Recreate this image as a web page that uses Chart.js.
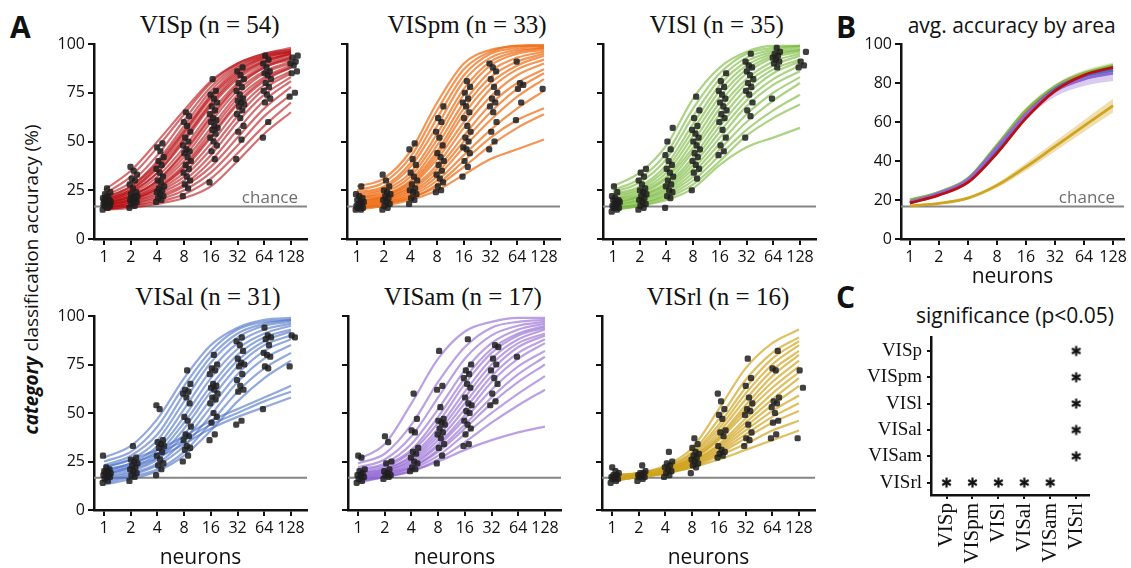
<!DOCTYPE html>
<html>
<head>
<meta charset="utf-8">
<script src="https://cdn.jsdelivr.net/npm/chart.js@4.4.1/dist/chart.umd.min.js"></script>
<style>
  html, body { margin: 0; padding: 0; background: #fff; overflow: hidden; }
  body { width: 1131px; height: 568px; position: relative; font-family: 'Open Sans', sans-serif; color: #111; }
  canvas { position: absolute; }
  .lbl { position: absolute; white-space: nowrap; }
  .letter { font-weight: 700; font-size: 30px; line-height: 30px; }
  .ttl { font-family: 'Liberation Serif', serif; font-size: 25px; line-height: 25px; width: 240px; text-align: center; }
  .sub { font-size: 21px; line-height: 21px; width: 260px; text-align: center; }
  .ylab { font-size: 19px; line-height: 19px; width: 360px; text-align: center; transform: rotate(-90deg); }
</style>
</head>
<body>
<div class="lbl letter" style="left:10px;top:11.5px">A</div>
<div class="lbl letter" style="left:836px;top:12px">B</div>
<div class="lbl letter" style="left:836px;top:281.5px">C</div>

<div class="lbl ttl" style="left:89.7px;top:12.4px">VISp (n = 54)</div>
<div class="lbl ttl" style="left:347px;top:12.4px">VISpm (n = 33)</div>
<div class="lbl ttl" style="left:596.7px;top:12.4px">VISl (n = 35)</div>
<div class="lbl ttl" style="left:88px;top:284px">VISal (n = 31)</div>
<div class="lbl ttl" style="left:343px;top:284px">VISam (n = 17)</div>
<div class="lbl ttl" style="left:598px;top:284px">VISrl (n = 16)</div>
<div class="lbl sub" style="left:881.7px;top:14.7px">avg. accuracy by area</div>
<div class="lbl sub" style="left:885px;top:304.7px">significance (p&lt;0.05)</div>
<div class="lbl ylab" style="left:-149.4px;top:270px"><b><i>category</i></b> classification accuracy (%)</div>

<canvas id="c-visp"  width="273" height="239" style="left:42px;top:30px"></canvas>
<canvas id="c-vispm" width="273" height="239" style="left:295px;top:30px"></canvas>
<canvas id="c-visl"  width="273" height="239" style="left:551px;top:30px"></canvas>
<canvas id="c-visal" width="273" height="269" style="left:42px;top:302px"></canvas>
<canvas id="c-visam" width="273" height="269" style="left:296px;top:302px"></canvas>
<canvas id="c-visrl" width="273" height="269" style="left:550px;top:302px"></canvas>
<canvas id="c-avg"   width="281" height="260" style="left:849px;top:30px"></canvas>
<canvas id="c-sig"   width="245" height="249" style="left:861px;top:319px"></canvas>

<script>
// Neuron counts on the x axis and tick values
const NEURONS = [1, 2, 4, 8, 16, 32, 64, 128];
const ACC_TICKS = [0, 25, 50, 75, 100];
const AVG_TICKS = [0, 20, 40, 60, 80, 100];
const CHANCE = 100 / 6;
const AREAS = ['VISp', 'VISpm', 'VISl', 'VISal', 'VISam', 'VISrl'];

// Fitted curves per session (accuracy % at each neuron count)
const vispCurves = [
    [25, 35, 50, 66, 81, 90, 95, 98],
    [23, 32, 47, 64, 80, 90, 95, 97],
    [22, 29, 43, 61, 78, 89, 94, 97],
    [21, 27, 40, 58, 76, 88, 94, 96],
    [20, 26, 38, 55, 73, 86, 93, 96],
    [20, 25, 36, 52, 70, 84, 91, 95],
    [19, 24, 34, 50, 68, 82, 90, 94],
    [19, 23, 32, 47, 65, 80, 89, 93],
    [18, 22, 30, 44, 62, 78, 88, 92],
    [18, 22, 29, 42, 60, 76, 86, 91],
    [18, 21, 28, 40, 57, 74, 85, 90],
    [17, 21, 27, 38, 55, 72, 83, 89],
    [17, 20, 26, 36, 52, 69, 81, 88],
    [17, 20, 25, 34, 49, 66, 79, 86],
    [16, 19, 24, 32, 46, 63, 77, 85],
    [16, 19, 23, 30, 43, 60, 74, 83],
    [16, 18, 22, 28, 40, 56, 71, 81],
    [16, 18, 21, 27, 37, 52, 67, 78],
    [15, 17, 20, 25, 34, 48, 63, 74],
    [15, 17, 19, 23, 31, 44, 58, 70],
    [15, 16, 18, 21, 27, 40, 54, 65],
    [21, 27, 39, 56, 74, 87, 93, 96],
    [19, 24, 34, 51, 69, 83, 91, 95],
    [18, 22, 30, 45, 63, 79, 88, 93],
    [20, 25, 37, 54, 72, 85, 92, 95],
    [17, 20, 26, 37, 53, 70, 82, 88]
];
const vispPoints = [
    [15, 16, 17, 17, 18, 18, 18, 19, 19, 19, 20, 20, 21, 21, 22, 23, 24, 26],
    [16, 17, 18, 19, 19, 20, 20, 21, 22, 22, 23, 24, 26, 28, 30, 31, 33, 35, 37],
    [19, 20, 21, 22, 23, 24, 25, 26, 27, 29, 30, 32, 34, 36, 38, 40, 42, 45, 47, 49],
    [22, 26, 28, 30, 32, 34, 36, 38, 40, 42, 44, 45, 46, 48, 50, 52, 55, 58, 60, 63, 65],
    [29, 41, 45, 48, 50, 52, 54, 56, 57, 58, 60, 61, 62, 64, 66, 68, 70, 72, 74, 76, 82],
    [41, 51, 55, 58, 62, 64, 66, 68, 69, 70, 71, 72, 74, 76, 78, 80, 82, 84, 86, 88],
    [52, 60, 70, 72, 74, 76, 78, 80, 82, 84, 85, 86, 88, 90, 92, 94],
    [73, 75, 85, 86, 89, 90, 91, 93, 94]
];

const vispmCurves = [
    [27, 31, 45, 70, 90, 97, 99, 100],
    [25, 29, 42, 66, 87, 96, 99, 99],
    [24, 27, 39, 62, 84, 95, 98, 99],
    [23, 26, 37, 58, 81, 93, 97, 98],
    [22, 25, 34, 54, 77, 91, 96, 98],
    [21, 24, 32, 51, 74, 89, 95, 97],
    [21, 23, 30, 48, 70, 86, 93, 96],
    [20, 22, 29, 45, 67, 83, 91, 95],
    [19, 22, 28, 43, 64, 80, 89, 94],
    [19, 21, 27, 41, 60, 77, 87, 92],
    [18, 21, 26, 38, 57, 73, 84, 90],
    [18, 20, 25, 36, 53, 69, 80, 87],
    [17, 20, 24, 34, 50, 65, 77, 85],
    [17, 19, 23, 32, 47, 61, 73, 82],
    [16, 19, 22, 30, 43, 56, 67, 76],
    [16, 18, 21, 28, 40, 52, 61, 67],
    [15, 18, 21, 27, 37, 48, 57, 64],
    [15, 17, 20, 25, 33, 41, 46, 51]
];
const vispmPoints = [
    [15, 15, 16, 16, 17, 17, 18, 18, 19, 19, 20, 21, 22, 23, 27],
    [15, 16, 17, 18, 19, 20, 21, 22, 23, 24, 25, 27, 30, 33],
    [18, 20, 21, 23, 24, 25, 26, 28, 30, 32, 34, 38, 41, 46, 49],
    [24, 25, 27, 29, 31, 33, 35, 38, 40, 42, 44, 48, 52, 55, 60, 62, 68],
    [32, 37, 40, 44, 46, 47, 50, 52, 55, 58, 62, 65, 68, 70, 72, 75, 78, 81],
    [46, 50, 55, 60, 65, 68, 70, 72, 75, 78, 82, 86, 88, 90],
    [61, 70, 77, 79, 80, 91],
    [77]
];

const vislCurves = [
    [27, 34, 48, 72, 88, 96, 99, 99],
    [25, 31, 44, 67, 85, 95, 98, 99],
    [24, 29, 41, 63, 82, 93, 97, 99],
    [23, 27, 38, 59, 79, 91, 96, 98],
    [22, 26, 36, 56, 76, 89, 95, 97],
    [21, 25, 34, 53, 73, 87, 94, 97],
    [20, 24, 32, 50, 70, 85, 93, 96],
    [20, 23, 31, 47, 67, 82, 91, 95],
    [19, 22, 29, 45, 64, 80, 89, 94],
    [18, 22, 28, 42, 61, 77, 87, 92],
    [18, 21, 27, 40, 58, 74, 85, 91],
    [17, 20, 26, 38, 55, 71, 82, 89],
    [17, 20, 25, 36, 52, 68, 79, 86],
    [16, 19, 24, 34, 49, 64, 75, 83],
    [16, 18, 23, 32, 46, 60, 71, 80],
    [15, 18, 22, 30, 43, 56, 66, 74],
    [15, 17, 21, 28, 40, 53, 62, 69],
    [15, 17, 20, 26, 38, 47, 52, 57]
];
const vislPoints = [
    [14, 15, 16, 16, 17, 17, 18, 18, 19, 19, 20, 20, 21, 22, 24, 27],
    [15, 16, 17, 18, 19, 20, 21, 22, 23, 24, 25, 26, 28, 30, 32, 34, 36],
    [16, 21, 22, 24, 25, 27, 28, 30, 32, 34, 36, 38, 40, 43, 46, 50, 57],
    [25, 31, 34, 36, 38, 40, 42, 44, 46, 48, 50, 52, 54, 56, 58, 62, 66, 73],
    [43, 45, 48, 52, 56, 60, 62, 64, 66, 68, 70, 72, 74, 76, 78, 81, 85],
    [52, 63, 66, 70, 74, 76, 78, 80, 82, 84, 86, 88, 89, 91, 95],
    [72, 88, 90, 91, 92, 93, 94, 95, 96, 98],
    [88, 89, 91, 96]
];

const visalCurves = [
    [27, 33, 47, 68, 85, 94, 98, 99],
    [25, 30, 43, 64, 82, 93, 97, 98],
    [23, 28, 39, 60, 79, 91, 96, 98],
    [22, 26, 36, 56, 76, 89, 95, 97],
    [21, 24, 33, 52, 72, 86, 93, 96],
    [20, 23, 31, 48, 68, 83, 91, 95],
    [19, 22, 29, 45, 64, 80, 89, 93],
    [18, 21, 27, 42, 61, 77, 87, 92],
    [17, 20, 26, 39, 57, 74, 85, 90],
    [16, 19, 24, 36, 53, 70, 82, 88],
    [15, 18, 23, 33, 49, 66, 78, 85],
    [14, 17, 21, 30, 45, 61, 73, 81],
    [13, 16, 20, 28, 41, 56, 68, 77],
    [22, 26, 31, 38, 46, 52, 58, 64],
    [20, 24, 29, 36, 44, 50, 56, 61],
    [18, 22, 27, 34, 42, 48, 53, 58]
];
const visalPoints = [
    [14, 15, 16, 17, 17, 18, 18, 19, 19, 20, 20, 21, 22, 28],
    [15, 17, 18, 19, 20, 21, 22, 23, 24, 25, 26, 27, 33],
    [18, 21, 23, 24, 26, 28, 30, 32, 33, 34, 35, 36, 52, 54],
    [25, 28, 31, 32, 33, 36, 38, 39, 43, 46, 48, 55, 58, 60, 61, 62, 65, 72],
    [36, 39, 45, 48, 50, 55, 57, 58, 60, 62, 63, 64, 65, 70, 72, 73, 75, 80],
    [44, 46, 61, 62, 64, 67, 70, 74, 75, 76, 78, 82, 85, 87, 89],
    [52, 73, 74, 79, 80, 81, 85, 88, 89, 90, 94],
    [74, 89, 90]
];

const visamCurves = [
    [26, 34, 55, 78, 92, 97, 99, 99],
    [24, 29, 44, 66, 84, 94, 97, 98],
    [22, 26, 38, 58, 78, 90, 95, 97],
    [21, 24, 34, 52, 72, 86, 93, 96],
    [20, 23, 31, 48, 68, 83, 91, 95],
    [19, 22, 30, 45, 65, 81, 90, 94],
    [19, 21, 28, 42, 61, 78, 88, 93],
    [18, 21, 27, 40, 58, 75, 86, 91],
    [18, 20, 26, 38, 55, 72, 84, 90],
    [17, 20, 25, 36, 52, 69, 81, 88],
    [17, 19, 24, 34, 49, 66, 78, 86],
    [16, 19, 23, 33, 47, 62, 74, 82],
    [16, 18, 22, 31, 44, 58, 70, 79],
    [15, 18, 22, 30, 42, 55, 66, 75],
    [15, 17, 21, 28, 39, 50, 60, 69],
    [15, 17, 20, 26, 35, 45, 54, 62],
    [14, 17, 20, 25, 31, 36, 40, 43]
];
const visamPoints = [
    [14, 15, 16, 17, 18, 18, 19, 20, 21, 27, 28],
    [16, 17, 18, 18, 19, 20, 21, 24, 25, 35, 38],
    [20, 21, 22, 24, 25, 27, 29, 30, 32, 40, 41, 47, 60],
    [24, 28, 32, 34, 37, 39, 40, 42, 44, 45, 46, 47, 53, 62, 64, 82],
    [33, 34, 39, 42, 44, 46, 50, 51, 54, 55, 58, 63, 65, 68, 70, 72, 75, 88],
    [54, 56, 60, 65, 68, 72, 75, 78, 84, 85],
    [79],
    []
];

const visrlCurves = [
    [18, 19, 23, 32, 52, 73, 86, 93],
    [18, 19, 22, 30, 47, 67, 81, 89],
    [17, 19, 22, 29, 44, 63, 78, 87],
    [17, 18, 21, 28, 42, 60, 75, 85],
    [17, 18, 21, 27, 40, 57, 72, 82],
    [17, 18, 21, 27, 38, 54, 69, 80],
    [17, 18, 20, 26, 37, 52, 66, 77],
    [16, 18, 20, 26, 36, 50, 63, 74],
    [16, 18, 20, 25, 34, 47, 60, 71],
    [16, 17, 20, 25, 33, 45, 57, 68],
    [16, 17, 20, 24, 32, 43, 54, 64],
    [16, 17, 19, 24, 31, 41, 51, 59],
    [16, 17, 19, 23, 30, 39, 48, 55],
    [15, 17, 19, 23, 29, 37, 45, 51],
    [15, 17, 19, 22, 28, 34, 41, 46],
    [15, 17, 19, 22, 26, 31, 36, 41]
];
const visrlPoints = [
    [14, 15, 16, 16, 17, 17, 18, 18, 19, 20, 22],
    [15, 16, 17, 17, 18, 18, 19, 19, 20, 23],
    [17, 18, 19, 20, 21, 22, 23, 24, 25, 30],
    [19, 22, 23, 24, 25, 26, 27, 28, 29, 30, 32, 34, 37],
    [27, 28, 29, 30, 31, 33, 38, 40, 41, 47, 49, 52, 56, 60],
    [33, 36, 37, 40, 44, 49, 51, 52, 55, 58, 64, 68, 78],
    [37, 39, 45, 46, 50, 53, 55, 56, 58, 72, 73, 82],
    [37, 63, 72]
];

// Average accuracy by area (mean and s.e.m.)
const avgVISp  = [18.5, 22.5, 29, 44, 62, 76, 84, 88];
const avgVISpm = [18.5, 23, 30, 46, 64.5, 77, 84, 87];
const avgVISl  = [20, 24, 31, 48, 66, 78, 85, 89];
const avgVISal = [18.5, 23, 30, 46, 64, 77, 83.5, 86.5];
const avgVISam = [19, 23.5, 30.5, 47, 64, 76, 82, 85];
const avgVISrl = [17, 18.3, 21, 27.5, 37, 47.5, 58, 68.4];
const semVISp  = [0.5, 0.6, 0.8, 1, 1, 1, 1, 1];
const semVISpm = [0.8, 0.8, 1, 1.5, 2, 2, 2, 2];
const semVISl  = [0.8, 0.8, 1, 1.5, 1.5, 1.5, 1.5, 1.5];
const semVISal = [0.8, 0.8, 1, 1.5, 2, 2, 2, 2];
const semVISam = [1, 1.2, 1.5, 2, 2.5, 3, 3.5, 4];
const semVISrl = [0.5, 0.6, 0.8, 1.2, 2, 2.5, 3, 3.5];

// Significant pairs (row area, column area)
const sigPairs = [
    ['VISp', 'VISrl'], ['VISpm', 'VISrl'], ['VISl', 'VISrl'], ['VISal', 'VISrl'], ['VISam', 'VISrl'],
    ['VISrl', 'VISp'], ['VISrl', 'VISpm'], ['VISrl', 'VISl'], ['VISrl', 'VISal'], ['VISrl', 'VISam']
];

const COLORS = {
    VISp: '185,14,18',
    VISpm: '238,108,20',
    VISl: '126,188,66',
    VISal: '74,112,200',
    VISam: '146,102,212',
    VISrl: '208,164,30'
};
const CURVE_ALPHA = { VISp: 0.6, VISpm: 0.72, VISl: 0.65, VISal: 0.6, VISam: 0.62, VISrl: 0.7 };

const SANS = "'Open Sans', sans-serif";
const SERIF = "'Liberation Serif', serif";
const INK = '#111';

// spread of the dots to the right of each tick (beeswarm-like)
const jitter = i => -0.05 + 0.32 * ((i * 0.618034) % 1);

// Chance level line and its label
Chart.register({
    id: 'chance',
    defaults: { show: false, label: '', inset: 9 },
    beforeDatasetsDraw(chart, args, opts) {
        if (!opts.show) return;
        const { ctx, chartArea: a, scales: { y } } = chart;
        const py = y.getPixelForValue(CHANCE);
        ctx.save();
        ctx.strokeStyle = '#858585';
        ctx.lineWidth = 2;
        ctx.beginPath();
        ctx.moveTo(a.left, py);
        ctx.lineTo(a.right, py);
        ctx.stroke();
        if (opts.label) {
            ctx.fillStyle = '#6e6e6e';
            ctx.font = '17px ' + SANS;
            ctx.textAlign = 'right';
            ctx.textBaseline = 'alphabetic';
            ctx.fillText(opts.label, a.right - opts.inset, py - 4);
        }
        ctx.restore();
    }
});

const gridStyle = (len) => ({ drawOnChartArea: false, drawTicks: true, tickLength: len, color: INK, lineWidth: 2 });
const borderStyle = { display: true, color: INK, width: 2.5 };

function logAxis(min, max, height, withTitle) {
    return {
        type: 'linear', min, max,
        afterBuildTicks: s => { s.ticks = NEURONS.map(n => ({ value: Math.log2(n) })); },
        afterFit: s => { s.height = height; },
        ticks: {
            callback: v => String(Math.round(2 ** v)),
            font: { family: SANS, size: 16 }, color: INK, padding: 3,
            maxRotation: 0, autoSkip: false
        },
        grid: gridStyle(6),
        border: borderStyle,
        title: { display: withTitle, text: 'neurons', font: { family: SANS, size: 21 }, color: INK, padding: 0 }
    };
}

function pctAxis(ticks, showLabels) {
    return {
        type: 'linear', min: 0, max: 100,
        afterBuildTicks: s => { s.ticks = ticks.map(v => ({ value: v })); },
        afterFit: s => { s.width = 52; },
        ticks: {
            callback: v => showLabels ? String(v) : '',
            font: { family: SANS, size: 16 }, color: INK, padding: 3
        },
        grid: gridStyle(6),
        border: borderStyle
    };
}

const baseOptions = (padTop, padRight) => ({
    responsive: false, animation: false, devicePixelRatio: 1,
    layout: { padding: { top: padTop, right: padRight, left: 0, bottom: 0 } },
    events: []
});

function areaChart(id, area, curves, points, opts) {
    const datasets = [{
        type: 'scatter',
        data: points.flatMap((vals, j) => vals.map((v, i) => ({ x: Math.log2(NEURONS[j]) + jitter(i), y: v }))),
        pointStyle: 'rectRounded', pointRadius: 3.6,
        backgroundColor: 'rgba(30,30,30,0.85)', borderWidth: 0
    }];
    curves.forEach(c => datasets.push({
        type: 'line',
        data: c.map((v, i) => ({ x: Math.log2(NEURONS[i]), y: v })),
        borderColor: 'rgba(' + COLORS[area] + ',' + CURVE_ALPHA[area] + ')', borderWidth: 2.2,
        pointRadius: 0, cubicInterpolationMode: 'monotone', fill: false
    }));
    new Chart(document.getElementById(id), {
        type: 'line',
        data: { datasets },
        options: {
            ...baseOptions(14, 8),
            plugins: {
                legend: { display: false }, tooltip: { enabled: false },
                chance: { show: true, label: opts.chance ? 'chance' : '', inset: 9 }
            },
            scales: {
                x: logAxis(-0.375, 7.6, opts.xHeight, opts.xTitle),
                y: pctAxis(ACC_TICKS, opts.yLabels)
            }
        }
    });
}

areaChart('c-visp', 'VISp', vispCurves, vispPoints, { xHeight: 30, xTitle: false, yLabels: true, chance: true });
areaChart('c-vispm', 'VISpm', vispmCurves, vispmPoints, { xHeight: 30, xTitle: false, yLabels: false });
areaChart('c-visl', 'VISl', vislCurves, vislPoints, { xHeight: 30, xTitle: false, yLabels: false });
areaChart('c-visal', 'VISal', visalCurves, visalPoints, { xHeight: 61, xTitle: true, yLabels: true });
areaChart('c-visam', 'VISam', visamCurves, visamPoints, { xHeight: 61, xTitle: true, yLabels: false });
areaChart('c-visrl', 'VISrl', visrlCurves, visrlPoints, { xHeight: 61, xTitle: true, yLabels: false });

// Panel B: averages with s.e.m. bands
const avgSeries = [
    ['VISp', avgVISp, semVISp],
    ['VISam', avgVISam, semVISam],
    ['VISal', avgVISal, semVISal],
    ['VISpm', avgVISpm, semVISpm],
    ['VISl', avgVISl, semVISl],
    ['VISrl', avgVISrl, semVISrl]
];
const toXY = arr => arr.map((v, i) => ({ x: Math.log2(NEURONS[i]), y: v }));
const avgDatasets = [];
avgSeries.forEach(([area, mean]) => avgDatasets.push({
    data: toXY(mean), borderColor: 'rgb(' + COLORS[area] + ')', borderWidth: 2.8,
    pointRadius: 0, cubicInterpolationMode: 'monotone', fill: false
}));
avgSeries.forEach(([area, mean, sem]) => {
    avgDatasets.push({
        data: toXY(mean.map((m, i) => m - sem[i])), borderWidth: 0, borderColor: 'transparent',
        pointRadius: 0, cubicInterpolationMode: 'monotone', fill: false
    });
    avgDatasets.push({
        data: toXY(mean.map((m, i) => m + sem[i])), borderWidth: 0, borderColor: 'transparent',
        pointRadius: 0, cubicInterpolationMode: 'monotone',
        fill: '-1', backgroundColor: 'rgba(' + COLORS[area] + ',0.35)'
    });
});
new Chart(document.getElementById('c-avg'), {
    type: 'line',
    data: { datasets: avgDatasets },
    options: {
        ...baseOptions(14, 4),
        plugins: {
            legend: { display: false }, tooltip: { enabled: false },
            chance: { show: true, label: 'chance', inset: 9 }
        },
        scales: {
            x: logAxis(-0.307, 7.376, 51, true),
            y: pctAxis(AVG_TICKS, true)
        }
    }
});

// Panel C: significance matrix
const star = document.createElement('canvas');
star.width = 13; star.height = 13;
const sctx = star.getContext('2d');
sctx.strokeStyle = INK;
sctx.lineWidth = 2.2;
for (let k = 0; k < 3; k++) {
    const a = Math.PI / 2 + k * Math.PI / 3;
    sctx.beginPath();
    sctx.moveTo(6.5 + 5 * Math.cos(a), 6.5 + 5 * Math.sin(a));
    sctx.lineTo(6.5 - 5 * Math.cos(a), 6.5 - 5 * Math.sin(a));
    sctx.stroke();
}

const areaTicks = s => { s.ticks = AREAS.map((_, i) => ({ value: i })); };
new Chart(document.getElementById('c-sig'), {
    type: 'scatter',
    data: {
        datasets: [{
            data: sigPairs.map(([row, col]) => ({ x: AREAS.indexOf(col), y: AREAS.indexOf(row) })),
            pointStyle: star, pointRadius: 6
        }]
    },
    options: {
        ...baseOptions(18, 8),
        plugins: { legend: { display: false }, tooltip: { enabled: false } },
        scales: {
            x: {
                type: 'linear', min: -0.6, max: 5.51,
                afterBuildTicks: areaTicks,
                afterFit: s => { s.height = 73; },
                ticks: {
                    callback: v => AREAS[v], font: { family: SERIF, size: 21 }, color: INK,
                    padding: 4, minRotation: 90, maxRotation: 90, autoSkip: false
                },
                grid: gridStyle(4),
                border: borderStyle
            },
            y: {
                type: 'linear', min: -0.53, max: 5.47, reverse: true,
                afterBuildTicks: areaTicks,
                afterFit: s => { s.width = 70; },
                ticks: { callback: v => AREAS[v], font: { family: SERIF, size: 19 }, color: INK, padding: 5 },
                grid: gridStyle(4),
                border: borderStyle
            }
        }
    }
});
</script>
</body>
</html>
